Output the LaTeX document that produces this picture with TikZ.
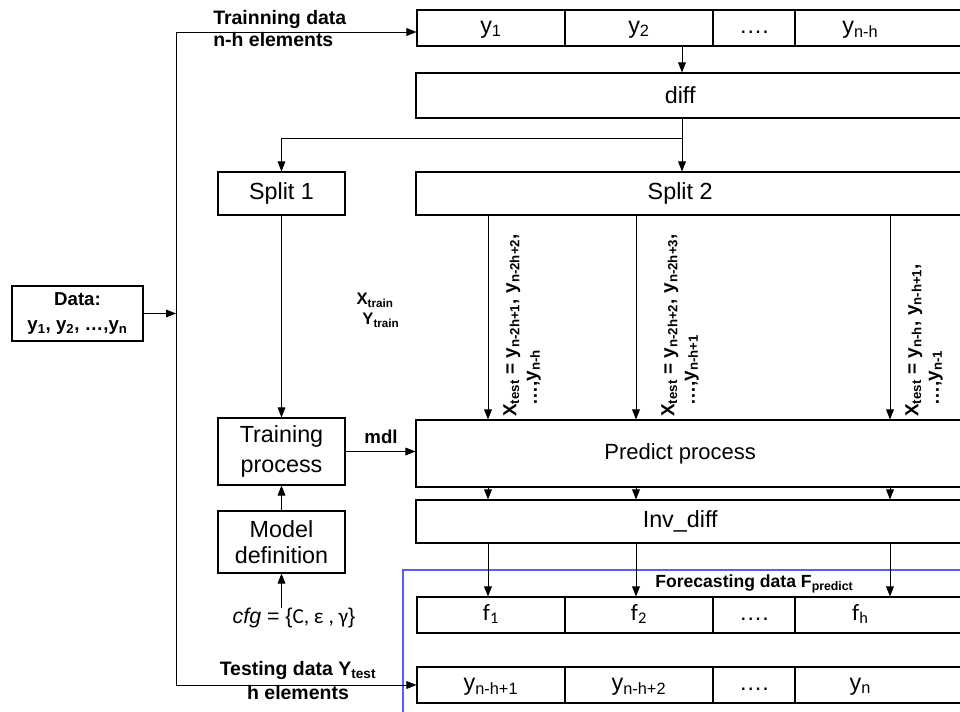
\documentclass[tikz,border=0pt]{standalone}
\usepackage{fontspec}
\setmainfont{Liberation Sans}
\newfontfamily\carl{Carlito}
\usetikzlibrary{arrows.meta}
\newcommand\padR[1]{\rule{#1}{0pt}}
\begin{document}
\begin{tikzpicture}[x=0.75pt,y=-0.75pt,
  box/.style={draw, line width=0.8pt, inner sep=0pt, font=\fontsize{17.5}{21}\selectfont},
  cell/.style={box, minimum height=27pt, text height=12pt, text depth=4pt},
  wide/.style={box, minimum width=419.25pt},
  small/.style={box, minimum width=95.25pt},
  cb/.style={font=\carl\fontsize{17.5}{19}\selectfont},
  arr/.style={-{Triangle[length=7.5pt,width=5.8pt]}, line width=0.7pt},
  lbl/.style={font=\bfseries\fontsize{14.6}{16.5}\selectfont, inner sep=0pt},
  rot/.style={lbl, rotate=90, anchor=north west, align=left, font=\bfseries\fontsize{14.2}{15.5}\selectfont}]
\useasboundingbox (0,0) rectangle (960,711);
\clip (0,0) rectangle (960,711);

% columns
\coordinate (vx) at (176,0);
\coordinate (ta) at (176,32);
\coordinate (kd) at (682,0);
\coordinate (k1) at (488,0);
\coordinate (k2) at (636,0);
\coordinate (k3) at (890,0);
\coordinate (br) at (682,138);

% blue frame
\draw[draw={rgb,255:red,90;green,90;blue,255}, line width=0.8pt] (403,570) rectangle (990,730);

% top row
\node[cell, minimum width=111pt] (c1) at (491,28) {y\textsubscript{1}};
\node[cell, minimum width=111pt] (c2) at (639,28) {y\textsubscript{2}};
\node[cell, minimum width=61.5pt] (c3) at (754,28) {….};
\node[cell, minimum width=135pt] (c4) at (885,28) {y\textsubscript{n-h}\padR{37pt}};

\node[wide, minimum height=33.75pt] (diff) at (695.5,95.5) {diff\padR{23pt}};
\node[small, minimum height=32.25pt] (s1) at (281.5,193.5) {Split 1};
\node[wide, minimum height=32.25pt] (s2) at (695.5,193.5) {Split 2\padR{23pt}};
\node[small, minimum height=50.25pt, align=center, font=\fontsize{17.5}{23}\selectfont] (tp) at (281.5,451.5) {Training\\process};
\node[wide, minimum height=50.25pt, font=\fontsize{16.5}{20}\selectfont] (pp) at (695.5,453.5) {Predict process\padR{23pt}};
\node[wide, minimum height=32.25pt] (inv) at (695.5,521.5) {Inv\_diff\padR{23pt}};
\node[small, minimum height=46.5pt, align=center, font=\fontsize{17.5}{20}\selectfont] (md) at (281.5,542) {Model\\definition};

% forecast row
\node[cell, cb, minimum width=111pt] (f1) at (491,615) {f\textsubscript{1}};
\node[cell, cb, minimum width=111pt] (f2) at (639,615) {f\textsubscript{2}};
\node[cell, minimum width=61.5pt] (f3) at (754,615) {….};
\node[cell, cb, minimum width=135pt] (f4) at (885,615) {f\textsubscript{h}\padR{37pt}};

% testing row
\node[cell, minimum width=111pt] (b1) at (491,685) {y\textsubscript{n-h+1}};
\node[cell, minimum width=111pt] (b2) at (639,685) {y\textsubscript{n-h+2}};
\node[cell, minimum width=61.5pt] (b3) at (754,685) {….};
\node[cell, minimum width=135pt] (b4) at (885,685) {y\textsubscript{n}\padR{37pt}};

% data box
\node[box, minimum width=98.25pt, minimum height=41.25pt, align=center,
  font=\bfseries\fontsize{14}{19}\selectfont] (data) at (77.5,313.5)
  {Data:\\y\textsubscript{1}, y\textsubscript{2}, …,y\textsubscript{n}};

% labels
\node[lbl, anchor=west, align=left] (ltr) at (213,29) {Trainning data\\n-h elements};
\node[lbl, align=center, font=\bfseries\fontsize{14.6}{18}\selectfont] (lte) at (298,681) {Testing data Y\textsubscript{test}\\h elements};
\node[lbl, anchor=west, font=\bfseries\fontsize{13.2}{16}\selectfont] (lfc) at (655,584) {Forecasting data F\textsubscript{predict}};
\node[lbl, font=\bfseries\fontsize{12.5}{15}\selectfont, align=left] (lxy) at (378,310)
  {X\textsubscript{train}\\\hspace*{0.35em}Y\textsubscript{train}};
\node[lbl, font=\bfseries\fontsize{14}{16}\selectfont] (lmdl) at (381,437) {mdl};
\node[inner sep=0pt, font=\fontsize{16}{19}\selectfont] (cfg) at (294,618)
  {\textit{cfg} = \{{\carl C, ε , γ}\}};

\node[rot] (t1) at (503,417)
  {X\textsubscript{test} = y\textsubscript{n-2h+1}, y\textsubscript{n-2h+2},\\\hspace*{0.6em}…,y\textsubscript{n-h}};
\node[rot] (t2) at (661,417)
  {X\textsubscript{test} = y\textsubscript{n-2h+2}, y\textsubscript{n-2h+3},\\\hspace*{0.6em}…,y\textsubscript{n-h+1}};
\node[rot] (t3) at (905,417)
  {X\textsubscript{test} = y\textsubscript{n-h}, y\textsubscript{n-h+1},\\\hspace*{0.6em}…,y\textsubscript{n-1}};

% connectors
\draw[arr] (data.east) -- (data.east -| vx);
\draw[arr] (vx |- b1.west) -- (ta) -- (ta -| c1.west);
\draw[arr] (vx |- b1.west) -- (b1.west);
\draw[arr] (c2.south -| kd) -- (diff.north -| kd);
\draw[arr] (diff.south -| kd) -- (s2.north -| kd);
\draw[arr] (br) -| (s1.north);
\draw[arr] (s1.south) -- (tp.north);
\draw[arr] (md.north) -- (tp.south);
\draw[arr] (cfg.north -| md.south) -- (md.south);
\draw[arr] (tp.east) -- (tp.east -| pp.west);
\foreach \k in {k1,k2,k3}{
  \draw[arr] (s2.south -| \k) -- (pp.north -| \k);
  \draw[arr] (pp.south -| \k) -- (inv.north -| \k);
}
\draw[arr] (inv.south -| k1) -- (f1.north -| k1);
\draw[arr] (inv.south -| k2) -- (f2.north -| k2);
\draw[arr] (inv.south -| k3) -- (f4.north -| k3);
\end{tikzpicture}
\end{document}
